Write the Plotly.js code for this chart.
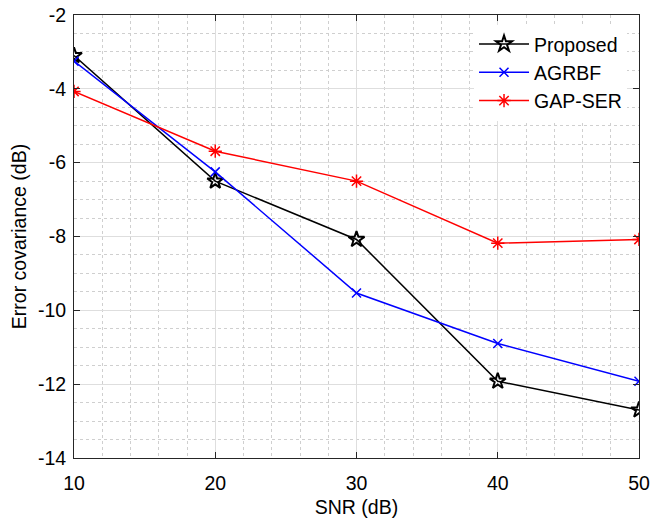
<!DOCTYPE html>
<html><head><meta charset="utf-8">
<script src="https://cdn.plot.ly/plotly-3.0.1.min.js"></script>
<style>html,body{margin:0;padding:0;background:#fff}</style>
</head><body><div id="chart" style="width:653px;height:524px"></div>
<script>
const snr = [10, 20, 30, 40, 50];
const proposed = [-3.1, -6.5, -8.08, -11.92, -12.7];
const agrbf = [-3.25, -6.25, -9.53, -10.9, -11.92];
const gapser = [-4.07, -5.69, -6.5, -8.18, -8.08];
const xTicks = [10, 20, 30, 40, 50];
const yTicks = [-14, -12, -10, -8, -6, -4, -2];

const fontFam = 'Liberation Sans, Arial, sans-serif';
const FS = 19.5;
const traces = [
  {x: snr, y: proposed, name: 'Proposed', mode: 'lines+markers',
   line: {color: '#000000', width: 1.5},
   marker: {symbol: 'star-open', size: 12, color: '#000000', line: {width: 2, color: '#000000'}}},
  {x: snr, y: agrbf, name: 'AGRBF', mode: 'lines+markers',
   line: {color: '#0000ff', width: 1.5},
   marker: {symbol: 'x-thin-open', size: 9, color: '#0000ff', line: {width: 1.5, color: '#0000ff'}}},
  {x: snr, y: gapser, name: 'GAP-SER', mode: 'lines+markers',
   line: {color: '#ff0000', width: 1.5},
   marker: {symbol: 'asterisk-open', size: 11, color: '#ff0000', line: {width: 1.5, color: '#ff0000'}}}
];
const axisCommon = {
  showline: true, linecolor: '#262626', linewidth: 1, mirror: 'ticks',
  ticks: 'inside', ticklen: 6, tickcolor: '#262626',
  showgrid: true, gridcolor: '#dedede', gridwidth: 1,
  zeroline: false, automargin: false,
  tickfont: {family: fontFam, size: FS, color: '#000'},
  minor: {showgrid: true, gridcolor: '#cfcfcf', griddash: 'dot', gridwidth: 1, ticks: ''}
};
const layout = {
  width: 653, height: 524,
  margin: {l: 73.5, r: 14, t: 15, b: 66},
  paper_bgcolor: '#fff', plot_bgcolor: '#fff',
  font: {family: fontFam, size: FS, color: '#000'},
  xaxis: Object.assign({}, axisCommon, {
    range: [10, 50], tickvals: xTicks, ticktext: xTicks.map(String),
    ticklabelstandoff: 8,
    minor: Object.assign({}, axisCommon.minor, {dtick: 2, tick0: 10}),
    title: {text: 'SNR (dB)', font: {family: fontFam, size: FS}, standoff: 6}
  }),
  yaxis: Object.assign({}, axisCommon, {
    range: [-14, -2], tickvals: yTicks, ticktext: yTicks.map(String),
    ticklabelstandoff: 3,
    minor: Object.assign({}, axisCommon.minor, {dtick: 0.5, tick0: -14}),
    title: {text: 'Error covariance (dB)', font: {family: fontFam, size: FS}, standoff: 6}
  }),
  legend: {x: 0.708, y: 0.978, xanchor: 'left', yanchor: 'top', bgcolor: 'rgba(255,255,255,1)',
    borderwidth: 0, font: {family: fontFam, size: FS}, tracegroupgap: 0, itemwidth: 50},
  showlegend: true
};
Plotly.newPlot('chart', traces, layout, {displayModeBar: false, staticPlot: true});
</script></body></html>
